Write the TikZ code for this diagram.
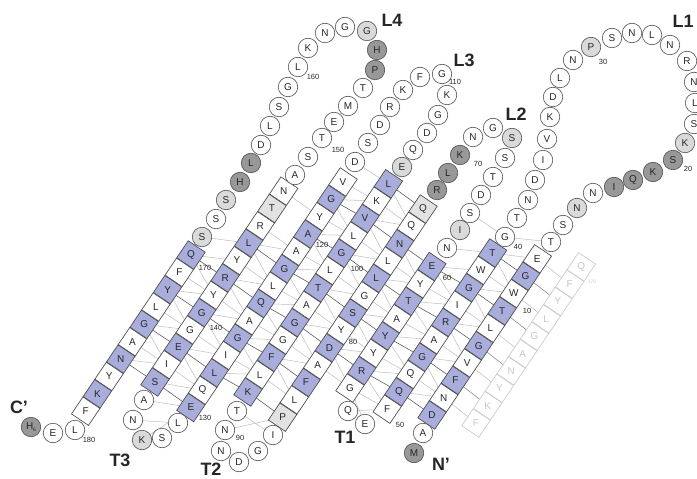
\documentclass[tikz,border=0pt]{standalone}
\usepackage{fontspec}
\setmainfont{Liberation Sans}
\usepackage{graphicx}
\pgfdeclarelayer{bonds}
\pgfsetlayers{bonds,main}
\definecolor{lav}{RGB}{168,173,220}
\definecolor{darkres}{RGB}{152,152,152}
\definecolor{lightres}{RGB}{218,218,218}
\definecolor{sqgray}{RGB}{226,226,226}
\definecolor{edge}{RGB}{80,80,80}
\definecolor{rungc}{RGB}{95,95,95}
\definecolor{hbond}{RGB}{190,190,190}
\newcommand\mystrand[5]{\foreach \rl/\ty [count=\k from 0] in {#5}{\pgfmathtruncatemacro\n{#1+\k}\node[sq\ty] (r\n) at ({#2+(#4)*11.7*\k},{#3-(#4)*17.35*\k}) {\rotatebox[origin=c]{-56}{\rl}};}}
\begin{document}
\begin{tikzpicture}[x=1bp,y=-1bp,
  res/.style={inner sep=0pt, font=\fontsize{10}{10}\selectfont, text=black!85},
  sq/.style={res, rectangle, draw=edge, line width=0.7pt, minimum size=20.5bp, rotate=56},
  sqL/.style={sq, fill=lav}, sqW/.style={sq, fill=white}, sqG/.style={sq, fill=sqgray},
  sqghost/.style={res, rectangle, draw=black!20, line width=0.7pt, minimum size=20.5bp, rotate=56, fill=white, text=black!22},
  ci/.style={res, circle, draw=edge, line width=0.6pt, minimum size=19.5bp},
  ciW/.style={ci, fill=white}, ciD/.style={ci, fill=darkres}, ciG/.style={ci, fill=lightres},
  num/.style={inner sep=0pt, font=\fontsize{7.5}{8}\selectfont, text=black!85},
  big/.style={inner sep=0pt, font=\bfseries\fontsize{18}{18}\selectfont, text=black!85},
  rung/.style={draw=rungc, line width=0.6pt},
  hb/.style={draw=hbond, line width=0.5pt}]
\useasboundingbox (0,0) rectangle (697,479);
% strands
\mystrand{3}{432}{415}{1}{D/L,N/W,F/L,V/W,G/L,L/W,T/L,W/W,G/L,E/W}
\mystrand{41}{492.5}{253}{-1}{T/L,W/W,G/L,I/W,R/L,A/W,G/L,Q/W,Q/L,F/W}
\mystrand{53}{350}{388}{1}{G/W,R/L,Y/W,Y/L,A/W,T/L,Y/W,E/L}
\mystrand{73}{423}{209}{-1}{Q/G,Q/W,N/L,L/W,L/L,G/W,S/L,Y/W,D/L,A/W,F/L,L/W,P/G}
\mystrand{92}{248}{392}{1}{K/L,L/W,F/L,G/W,G/L,A/W,T/L,L/W,G/L,L/W,V/L,K/W,L/L}
\mystrand{117}{343}{182}{-1}{V/W,G/L,Y/W,A/L,A/W,G/L,L/W,Q/L,A/W,G/L,I/W,L/L,Q/W,E/L}
\mystrand{136}{155}{382}{1}{S/L,I/W,E/L,G/W,G/L,Y/W,R/L,Y/W,L/L,R/W,T/G,N/W}
\mystrand{170}{191}{255}{-1}{Q/L,F/W,Y/L,L/W,G/L,A/W,N/L,Y/W,K/L,F/W}
% ghost strand
\foreach \rl [count=\k from 1] in {F,K,Y,N,A,G,L,Y,F,Q}
  \node[sqghost] (g\k) at ({476+11.7*(\k-1)},{423-17.35*(\k-1)}) {\rotatebox[origin=c]{-56}{\rl}};
% loop residues
\foreach \n/\x/\y/\rl/\ty in {
  1/414/453/M/D, 2/423/433/A/W,
  13/551/242/T/W, 14/563/225/S/W, 15/577/208/N/G, 16/593/193/N/W, 17/614/187/I/D,
  18/633/180/Q/D, 19/653/172/K/D, 20/673/160/S/D, 21/685/143/K/G, 22/694/124/S/W,
  23/695/103/L/W, 24/694/82/N/W, 25/687/61/R/W, 26/670/45/N/W, 27/652/35/L/W,
  28/632/33/N/W, 29/612/38/S/W, 30/591/47/P/G, 31/573/60/N/W, 32/560/78/L/W,
  33/553/97/D/W, 34/550/117/K/W, 35/547/139/V/W, 36/543/160/I/W, 37/535/180/D/W,
  38/528/200/N/W, 39/517/218/T/W, 40/505/237/G/W,
  51/365/424/E/W, 52/348/411/Q/W,
  61/447/248/N/W, 62/460/230/I/G, 63/470/213/S/W, 64/481/195/D/W, 65/493/177/T/W,
  66/505/158/S/W, 67/512/138/S/G, 68/493/128/G/W, 69/473/137/N/W, 70/460/155/K/D,
  71/448/173/L/D, 72/437/190/R/D,
  86/273/435/I/W, 87/258/451/G/W, 88/239/462/D/W, 89/221/451/N/W, 90/225/430/N/W, 91/237/411/T/W,
  105/402/167/E/G, 106/413/150/Q/W, 107/427/133/D/W, 108/438/115/G/W, 109/447/95/K/W,
  110/442/74/G/W, 111/420/77/F/W, 112/403/90/K/W, 113/390/107/R/W, 114/380/125/D/W,
  115/368/143/S/W, 116/355/162/D/W,
  131/178/423/L/W, 132/162/438/S/W, 133/142/440/K/G, 134/133/420/N/W, 135/144/400/A/W,
  148/295/175/A/W, 149/308/157/S/W, 150/322/138/T/W, 151/334/122/E/W, 152/348/106/M/W,
  153/363/88/T/W, 154/375/70/P/D, 155/377/50/H/D, 156/367/31/G/G, 157/345/27/G/W,
  158/325/33/N/W, 159/308/48/K/W, 160/298/67/L/W, 161/288/87/G/W, 162/279/107/S/W,
  163/270/126/L/W, 164/261/145/D/W, 165/251/163/L/D, 166/240/182/H/D, 167/226/200/S/G,
  168/216/219/S/W, 169/202/237/S/G,
  180/75/430/L/W, 181/53/433/E/W}
  \node[ci\ty] (r\n) at (\x,\y) {\rl};
\node[ciD] (r182) at (31,427) {H\raisebox{-1.5pt}{\fontsize{5}{5}\selectfont 6}};
% residue numbers
\foreach \v/\x/\y in {10/527/311, 20/688/169, 30/603/62, 40/518/247, 50/400/425,
  60/447/278, 70/478/164, 80/353/342, 90/240/438, 100/357/269, 110/455/82,
  120/322/245, 130/205/418, 140/216/328, 150/338/150, 160/313/77, 170/205/268, 180/89/440}
  \node[num] (n\v) at (\x,\y) {\v};
\node[num, text=black!20, font=\fontsize{5}{5}\selectfont] (ng170) at (592,282) {170};
% region labels
\node[big] (lL1) at (683,21) {L1};
\node[big] (lL2) at (516,114) {L2};
\node[big] (lL3) at (464,60) {L3};
\node[big] (lL4) at (392,20) {L4};
\node[big] (lT1) at (345,437) {T1};
\node[big] (lT2) at (211,469) {T2};
\node[big] (lT3) at (120,460) {T3};
\node[big] (lC) at (19,407) {C'};
\node[big] (lN) at (441,464) {N'};
% connecting lines
\begin{pgfonlayer}{bonds}
\fill[white] (0,0) rectangle (697,479);
\foreach \a/\b in {171/141,173/139,175/137,
  137/129,139/127,141/125,143/123,145/121,147/119,
  127/93,125/95,123/97,121/99,119/101,117/103,
  93/84,95/82,97/80,99/78,101/76,103/74,
  82/53,80/55,78/57,76/59,
  53/50,55/48,57/46,59/44,
  48/4,46/6,44/8,42/10,
  170/143,172/141,174/139,176/137,
  136/129,138/127,140/125,142/123,144/121,
  128/93,126/95,124/97,122/99,120/101,118/103,
  94/82,96/80,98/78,100/76,102/74,
  81/55,79/57,77/59,
  54/48,56/46,58/44,60/42,
  49/4,47/6,45/8,43/10,41/12,
  170/141,172/139,174/137,
  138/129,140/127,142/125,144/123,
  126/93,124/95,122/97,120/99,118/101,
  94/84,96/82,98/80,100/78,102/76,104/74,
  81/53,79/55,77/57,75/59,
  54/50,56/48,58/46,60/44,
  47/4,45/6,43/8,41/10,
  40/13,63/40,61/41,116/104,169/144,91/86,90/85,135/130,134/131,133/130,52/50,51/53}
  \draw[hb] (r\a.center) -- (r\b.center);
\foreach \a/\b in {4/1,6/3,8/5,10/7,12/9}
  \draw[hb] (r\a.center) -- (g\b.center);
\foreach \a/\b in {170/142,172/140,174/138,176/136,
  136/130,138/128,140/126,142/124,144/122,
  128/92,126/94,124/96,122/98,120/100,118/102,
  94/83,96/81,98/79,100/77,102/75,104/73,92/85,
  81/54,79/56,77/58,75/60,
  54/49,56/47,58/45,60/43,
  49/3,47/5,45/7,43/9,41/11}
  \draw[rung] (r\a.center) -- (r\b.center);
\foreach \a/\b in {5/2,7/4,9/6,11/8}
  \draw[rung, draw=black!45] (r\a.center) -- (g\b.center);
\end{pgfonlayer}
\end{tikzpicture}
\end{document}
